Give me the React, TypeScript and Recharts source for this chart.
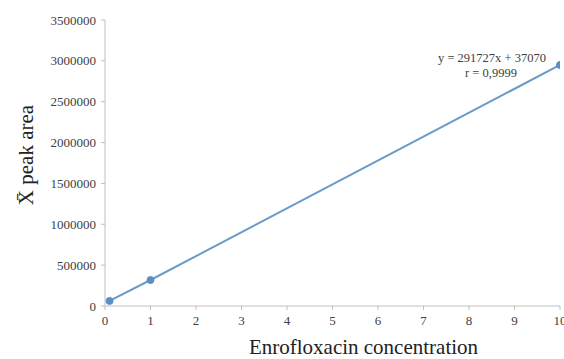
import React from "react";
import { LineChart, Line, XAxis, YAxis, ReferenceDot, Label } from "recharts";

const concentrations = [0.1, 1, 10];
const peakAreas = [62000, 318000, 2950000];
const xTicks = [0, 1, 2, 3, 4, 5, 6, 7, 8, 9, 10];
const yTicks = [0, 500000, 1000000, 1500000, 2000000, 2500000, 3000000, 3500000];
const equationLines = ["y = 291727x + 37070", "r = 0,9999"];
const xTitle = "Enrofloxacin concentration";
const yTitle = "X\u0304 peak area";

const data = concentrations.map((c, i) => ({ x: c, y: peakAreas[i] }));

const FONT = "'Liberation Serif', 'Times New Roman', serif";
const LINE_COLOR = "#6a9bc9";
const DOT_COLOR = "#5b8fc4";

const EquationLabel = (props: any) => {
  const vb = props.viewBox || {};
  const cx = vb.x + (vb.width || 0) / 2;
  const cy = vb.y + (vb.height || 0) / 2;
  return (
    <g>
      <text x={cx - 68} y={cy - 7} textAnchor="middle" dominantBaseline="central" style={{ fontFamily: FONT }} fontSize={12.5} fill="#404040">
        {equationLines[0]}
      </text>
      <text x={cx - 69} y={cy + 8} textAnchor="middle" dominantBaseline="central" style={{ fontFamily: FONT }} fontSize={12.5} fill="#404040">
        {equationLines[1]}
      </text>
    </g>
  );
};

const XTick = (props: any) => {
  const { x, y, payload } = props;
  return (
    <text x={x} y={y + 3} textAnchor="middle" dominantBaseline="hanging" style={{ fontFamily: FONT }} fontSize={13} fill="#404040">
      {payload.value}
    </text>
  );
};

const YTick = (props: any) => {
  const { x, y, payload } = props;
  return (
    <text x={x - 3} y={y} textAnchor="end" dominantBaseline="central" style={{ fontFamily: FONT }} fontSize={13} fill="#404040">
      {payload.value}
    </text>
  );
};

export default function App() {
  return (
    <div style={{ position: "absolute", left: 0, top: 0, width: 564, height: 359, background: "#fff" }}>
      <LineChart width={564} height={359} data={data} margin={{ top: 20, right: 4, bottom: 0, left: 0 }}>
        <XAxis
          dataKey="x"
          type="number"
          domain={[0, 10]}
          ticks={xTicks}
          interval={0}
          allowDataOverflow
          height={53}
          stroke="#c0c0c0"
          tickSize={4}
          tick={<XTick />}
          tickLine={{ stroke: "#c0c0c0" }}
        >
          <Label value={xTitle} position="insideBottom" offset={5} dx={31} style={{ fontFamily: FONT, fontSize: 21, fill: "#222" }} />
        </XAxis>
        <YAxis
          type="number"
          domain={[0, 3500000]}
          ticks={yTicks}
          interval={0}
          width={105}
          stroke="#c0c0c0"
          tickSize={4}
          tick={<YTick />}
          tickLine={{ stroke: "#c0c0c0" }}
        >
          <Label value={yTitle} angle={-90} position="insideLeft" offset={26} dy={-8} style={{ fontFamily: FONT, fontSize: 21, fill: "#222", textAnchor: "middle" }} />
        </YAxis>
        <Line
          dataKey="y"
          type="linear"
          stroke={LINE_COLOR}
          strokeWidth={2}
          dot={{ r: 3.5, fill: DOT_COLOR, stroke: DOT_COLOR, strokeWidth: 1 }}
          isAnimationActive={false}
        />
        <ReferenceDot x={concentrations[2]} y={peakAreas[2]} r={0} fill="none" stroke="none" ifOverflow="visible">
          <Label content={<EquationLabel />} />
        </ReferenceDot>
      </LineChart>
    </div>
  );
}
